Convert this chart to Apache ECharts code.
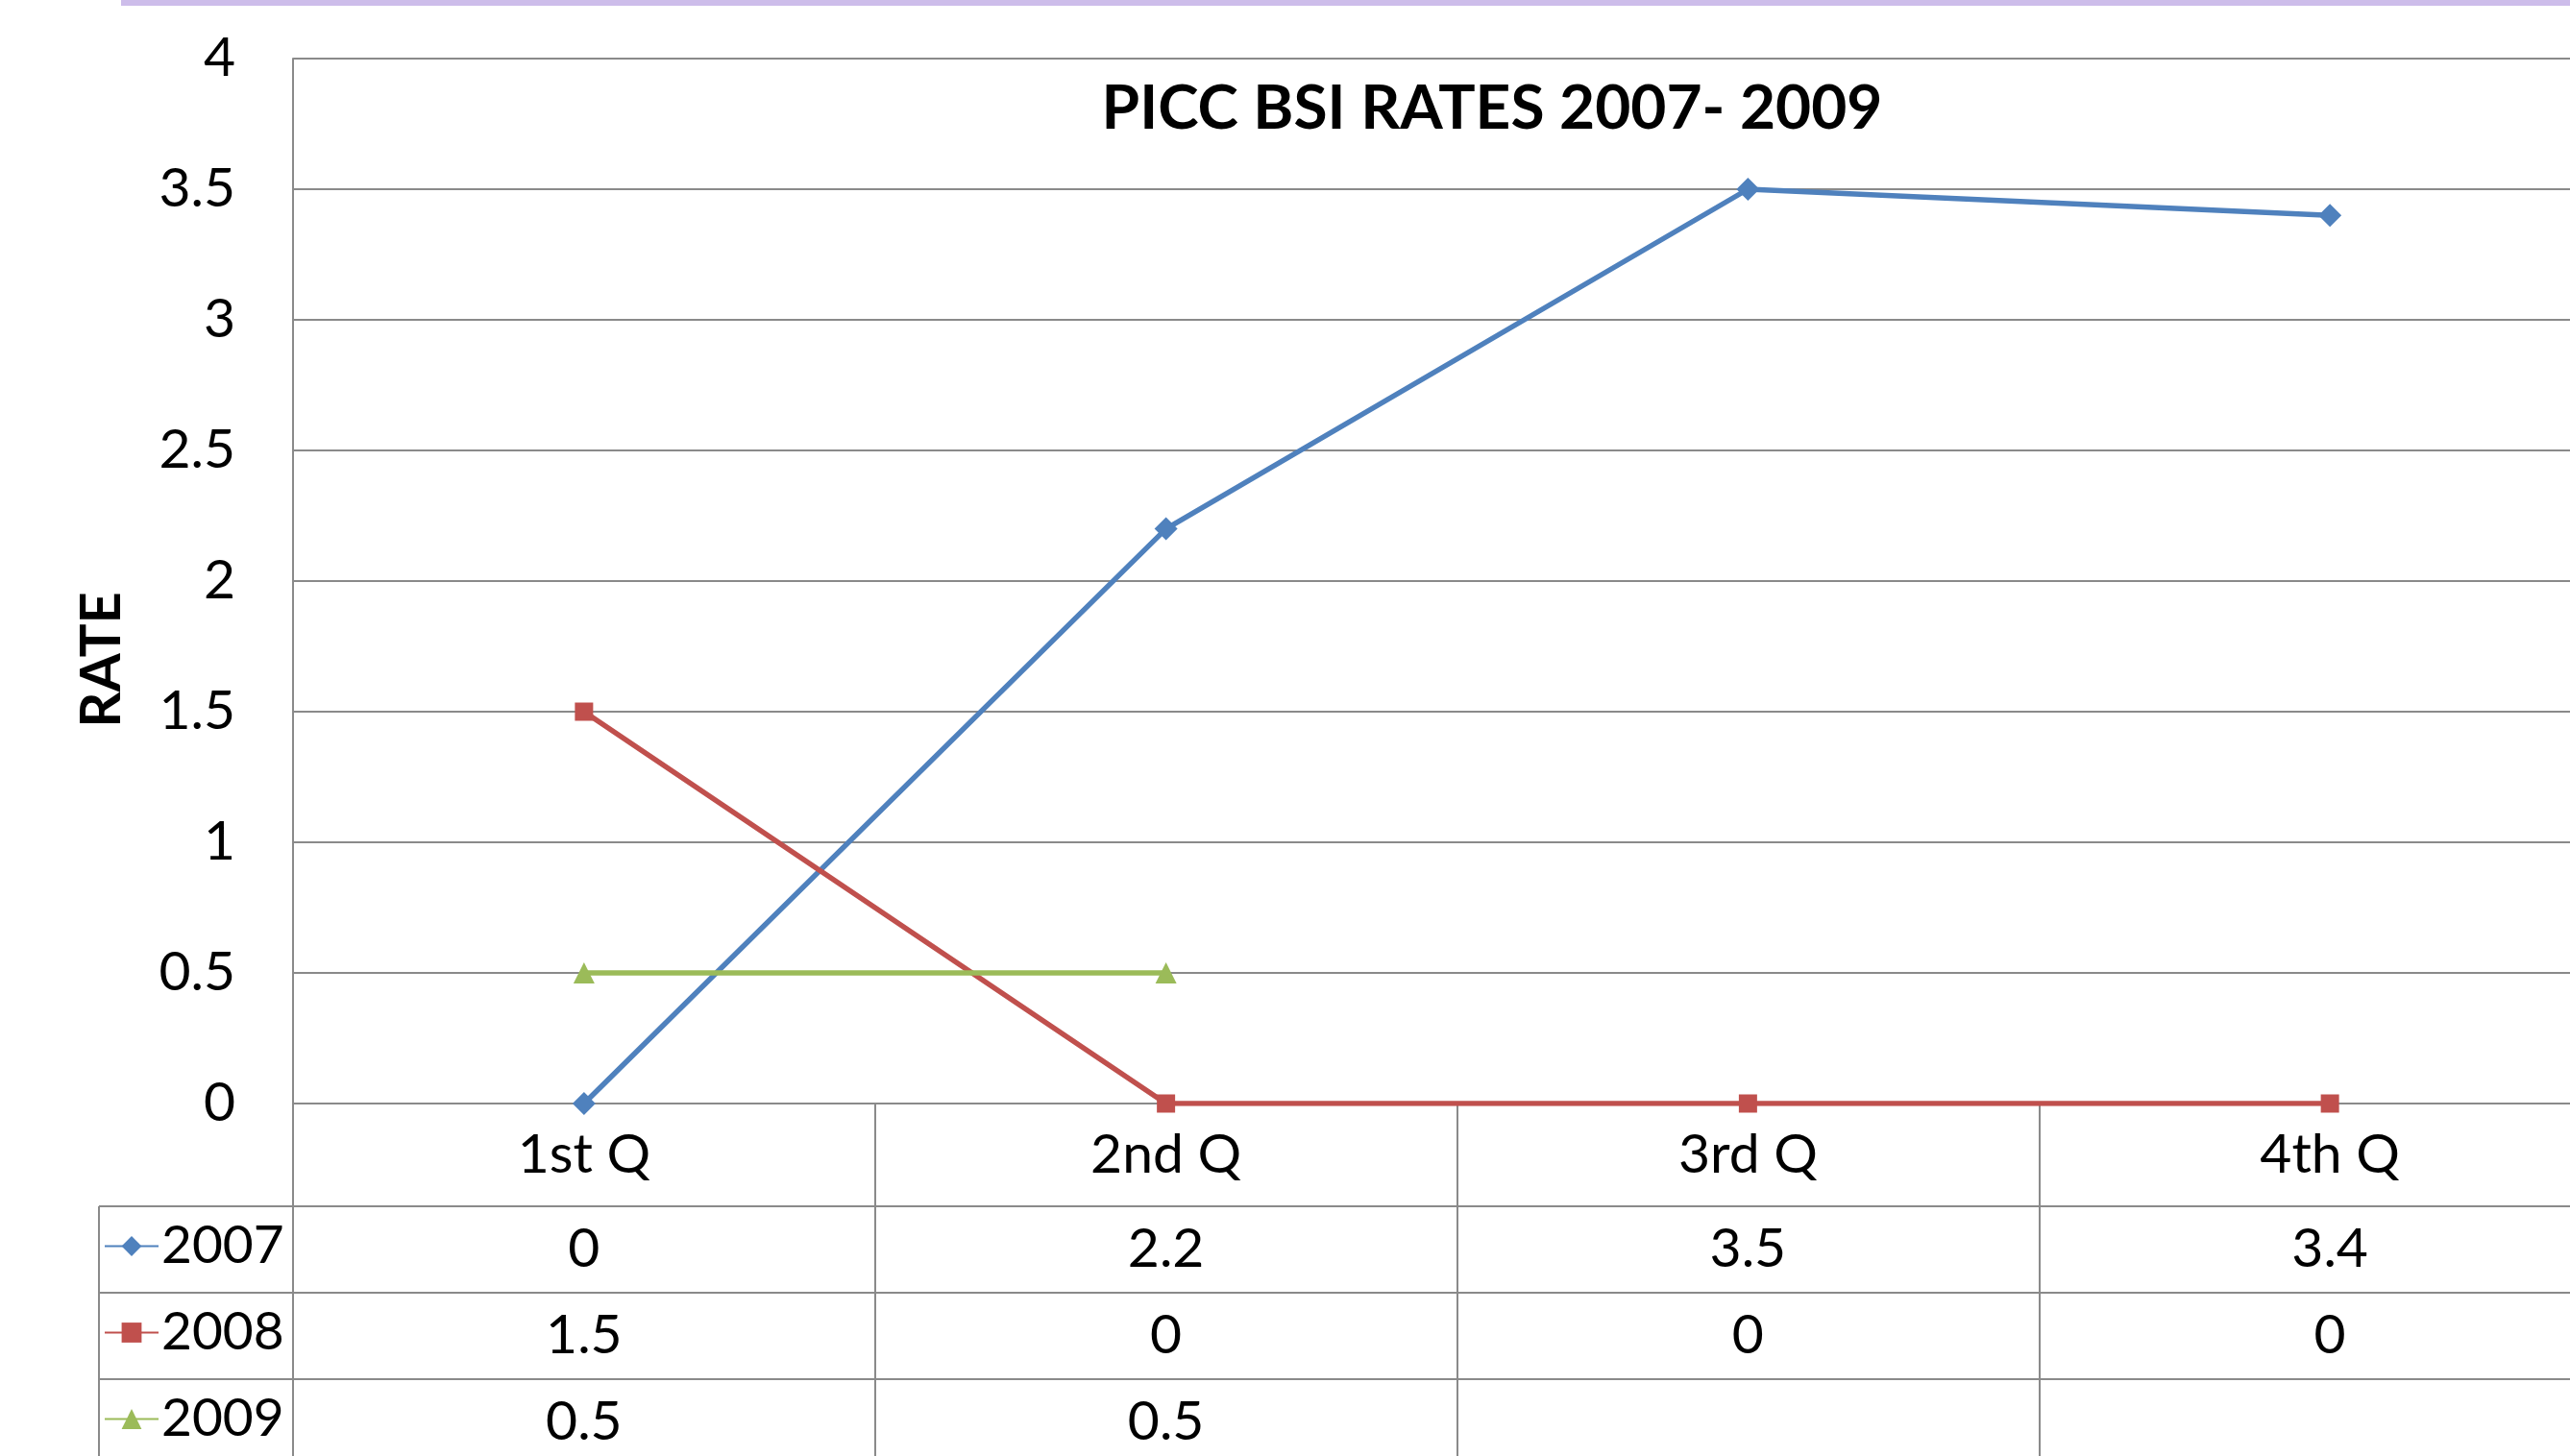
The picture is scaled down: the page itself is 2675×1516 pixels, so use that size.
<!DOCTYPE html>
<html>
<head>
<meta charset="utf-8">
<script src="https://cdn.jsdelivr.net/npm/echarts@6/dist/echarts.min.js"></script>
<style>
  html, body { margin: 0; padding: 0; background: #fff; }
  #main { width: 2675px; height: 1516px; }
</style>
</head>
<body>
<div id="main"></div>
<script>
// chart data
var quarters = ['1st Q', '2nd Q', '3rd Q', '4th Q'];
var years = ['2007', '2008', '2009'];
var rate2007 = [0, 2.2, 3.5, 3.4];
var rate2008 = [1.5, 0, 0, 0];
var rate2009 = [0.5, 0.5, null, null];
var yTicks = { min: 0, max: 4, interval: 0.5 };

var colors = ['#4F81BD', '#C0504D', '#9BBB59'];
var symbols = ['diamond', 'rect', 'triangle'];
var symbolSizes = [24, 19, 22];
var gridCol = '#8a8a8a';
var font = 'Lato';

var myChart = echarts.init(document.getElementById('main'));

var rows = [rate2007, rate2008, rate2009];

// one hidden-line x axis per table row, labels taken from the row's values
var tableAxes = rows.map(function (vals, r) {
    return {
        type: 'category',
        gridIndex: 0,
        position: 'bottom',
        offset: 98 + r * 90,
        data: quarters,
        axisLine: { show: false },
        axisTick: { show: false },
        axisLabel: {
            interval: 0,
            margin: 25,
            fontFamily: font,
            fontSize: 57,
            color: '#000',
            formatter: function (v, idx) {
                return vals[idx] == null ? '' : String(vals[idx]);
            }
        }
    };
});

// one legend per table row so each key sits in its own row
var legends = years.map(function (y, r) {
    return {
        orient: 'horizontal',
        left: 108, top: 1270 + r * 90,
        padding: 0,
        itemWidth: 56,
        itemHeight: 26,
        itemGap: 0,
        data: [y],
        textStyle: { fontFamily: font, fontSize: 55, color: '#000', padding: [0, 0, 0, -2] }
    };
});

var option = {
    animation: false,
    backgroundColor: '#fff',
    grid: {
        left: 305, top: 61, width: 2423, height: 1088,
        outerBoundsMode: 'none'
    },
    legend: legends,
    xAxis: [{
        type: 'category',
        gridIndex: 0,
        position: 'bottom',
        data: quarters,
        axisLine: { lineStyle: { color: gridCol, width: 2 } },
        axisTick: { show: true, length: 380, lineStyle: { color: gridCol, width: 2 } },
        axisLabel: { interval: 0, margin: 25, fontFamily: font, fontSize: 57, color: '#000' }
    }].concat(tableAxes),
    yAxis: {
        type: 'value',
        min: yTicks.min, max: yTicks.max, interval: yTicks.interval,
        axisLine: { show: true, lineStyle: { color: gridCol, width: 2 } },
        axisTick: { show: false },
        axisLabel: { margin: 60, fontFamily: font, fontSize: 57, color: '#000' },
        splitLine: { lineStyle: { color: gridCol, width: 2 } }
    },
    graphic: [
        { type: 'rect', shape: { x: 126, y: 0, width: 2600, height: 6 }, style: { fill: '#CDBDEA' } },
        { type: 'text', x: 1553, y: 113,
          style: { text: 'PICC BSI RATES 2007- 2009', font: 'bold 64px Lato', fill: '#000',
                   align: 'center', verticalAlign: 'middle' } },
        { type: 'text', x: 106, y: 687, rotation: Math.PI / 2,
          style: { text: 'RATE', font: 'bold 58px Lato', fill: '#000',
                   align: 'center', verticalAlign: 'middle' } },
        // data table frame
        { type: 'line', shape: { x1: 103, y1: 1256, x2: 2675, y2: 1256 }, style: { stroke: gridCol, lineWidth: 2 } },
        { type: 'line', shape: { x1: 103, y1: 1346, x2: 2675, y2: 1346 }, style: { stroke: gridCol, lineWidth: 2 } },
        { type: 'line', shape: { x1: 103, y1: 1436, x2: 2675, y2: 1436 }, style: { stroke: gridCol, lineWidth: 2 } },
        { type: 'line', shape: { x1: 103, y1: 1256, x2: 103, y2: 1516 }, style: { stroke: gridCol, lineWidth: 2 } }
    ],
    series: rows.map(function (vals, i) {
        return {
            name: years[i],
            type: 'line',
            xAxisIndex: 0,
            yAxisIndex: 0,
            data: vals,
            connectNulls: false,
            symbol: symbols[i],
            symbolSize: symbolSizes[i],
            color: colors[i],
            lineStyle: { width: 5.5, color: colors[i] },
            itemStyle: { color: colors[i] }
        };
    })
};

myChart.setOption(option);
</script>
</body>
</html>
